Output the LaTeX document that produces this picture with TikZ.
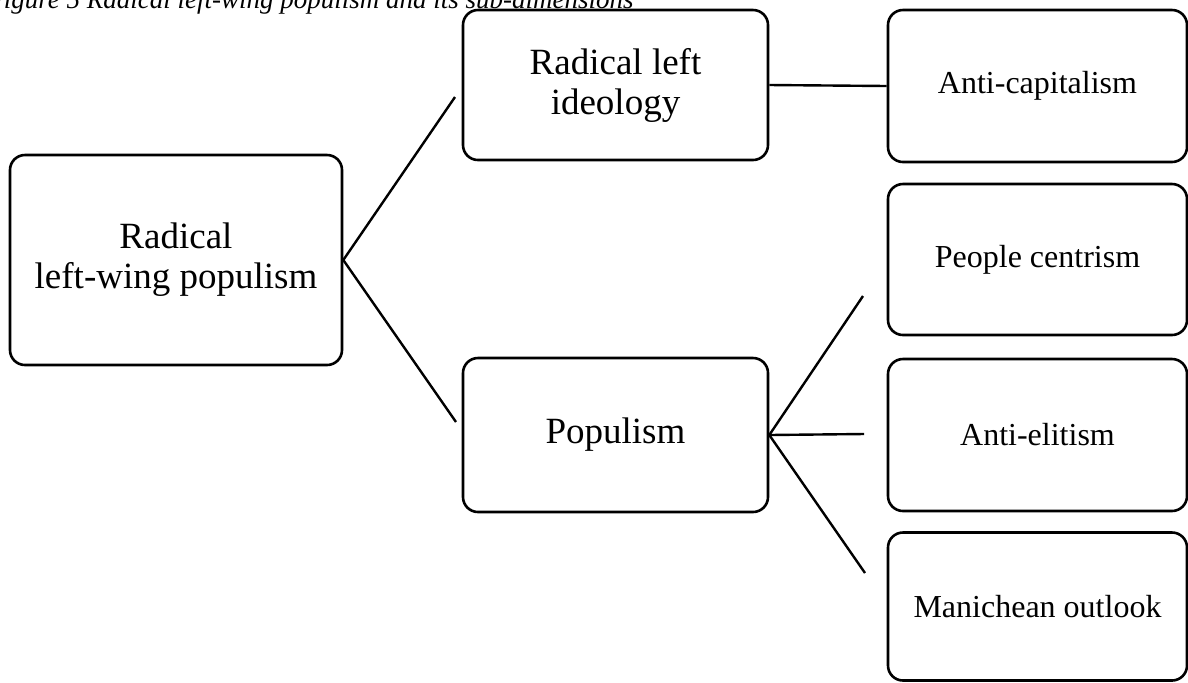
\documentclass[tikz,border=0pt]{standalone}
\usepackage{fontspec}
\setmainfont{Liberation Serif}
\usetikzlibrary{positioning}

\tikzset{
  dimbox/.style={draw, line width=1.3pt, rounded corners=7.5pt, align=center, inner sep=0.75pt},
  bigtext/.style={font=\fontsize{18.5}{20}\selectfont},
  smalltext/.style={font=\fontsize{16}{18}\selectfont},
  link/.style={line width=1.2pt}
}

\begin{document}
\begin{tikzpicture}[x=0.5pt,y=0.5pt,yscale=-1,xscale=1]
%set diagram left start at 0, and has height of 682
\clip (0,0) rectangle (1188,682);

% Caption (cut off at the top)
\node [anchor=base east, inner sep=0pt, font=\fontsize{13.5}{15}\selectfont\itshape] (caption) at (634,8) {Figure 5 Radical left-wing populism and its sub-dimensions};

%Shape: Rounded Rect [id:root]
\node [dimbox, bigtext, minimum width=166pt, minimum height=105pt] (rlwp) at (176,260) {Radical\\left-wing populism};
%Shape: Rounded Rect [id:ideology]
\node [dimbox, bigtext, minimum width=152.5pt, minimum height=75pt] (ideology) at (615.5,85) {Radical left\\ideology};
%Shape: Rounded Rect [id:populism]
\node [dimbox, bigtext, minimum width=152.5pt, minimum height=77pt] (populism) at (615.5,435) {Populism};

%Shape: Rounded Rect [id:subdims]
\node [dimbox, smalltext, minimum width=149.5pt, minimum height=76pt] (anticap) at (1037.5,86) {Anti-capitalism};
\node [dimbox, smalltext, minimum width=149.5pt, minimum height=75.5pt] (people) at (1037.5,259.5) {People centrism};
\node [dimbox, smalltext, minimum width=149.5pt, minimum height=76pt] (antielite) at (1037.5,435) {Anti-elitism};
\node [dimbox, smalltext, minimum width=149.5pt, minimum height=74pt] (manich) at (1037.5,606.5) {Manichean outlook};

% free line ends
\coordinate (rlwpA) at (455,97);
\coordinate (rlwpB) at (456,422);
\coordinate (popA) at (863,296);
\coordinate (popB) at (864,434);
\coordinate (popC) at (865,573);

%Straight Lines
\draw [link] (rlwp.east) -- (rlwpA);
\draw [link] (rlwp.east) -- (rlwpB);
\draw [link] (ideology.east) -- (anticap.west);
\draw [link] (populism.east) -- (popA);
\draw [link] (populism.east) -- (popB);
\draw [link] (populism.east) -- (popC);
\end{tikzpicture}
\end{document}
